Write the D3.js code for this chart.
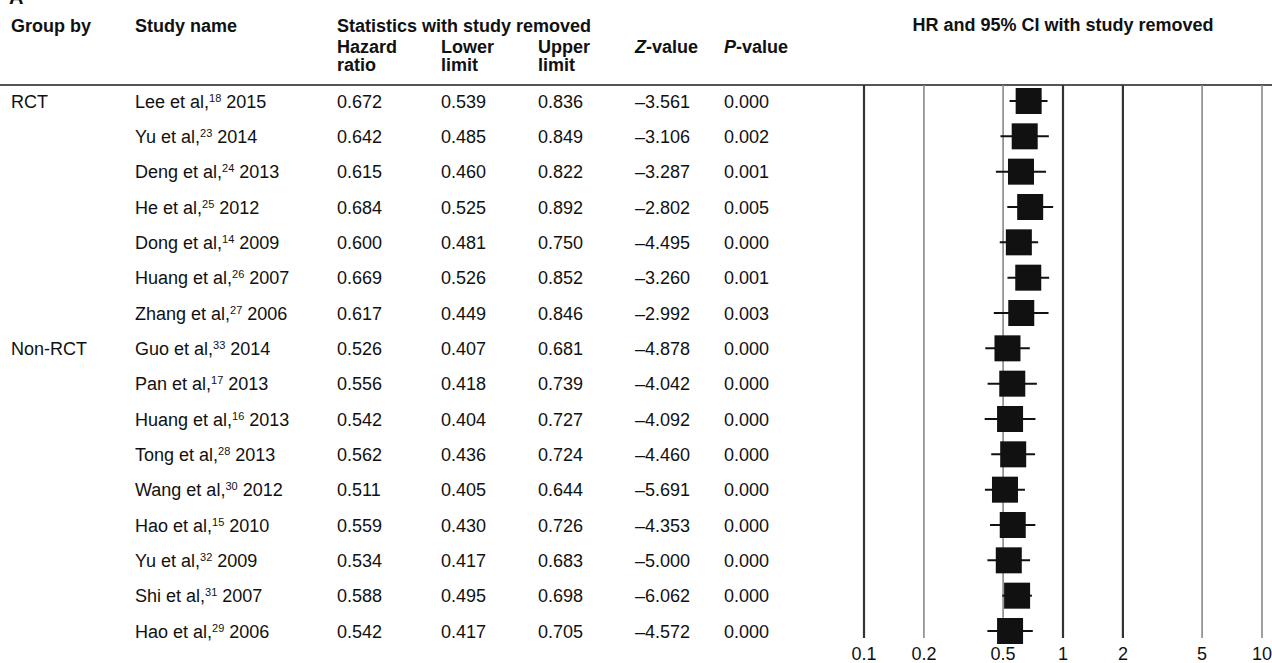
<!DOCTYPE html>
<html><head><meta charset="utf-8">
<script src="https://cdn.jsdelivr.net/npm/d3@7"></script>
<style>
html,body{margin:0;padding:0;background:#fff;}
svg{display:block;font-family:"Liberation Sans",Arial,sans-serif;}
</style></head>
<body>
<svg id="chart" width="1272" height="663"></svg>
<script>
const groups = [{name:"RCT", row:0},{name:"Non-RCT", row:7}];
const authors = ["Lee et al,","Yu et al,","Deng et al,","He et al,","Dong et al,","Huang et al,","Zhang et al,","Guo et al,","Pan et al,","Huang et al,","Tong et al,","Wang et al,","Hao et al,","Yu et al,","Shi et al,","Hao et al,"];
const refs = ["18","23","24","25","14","26","27","33","17","16","28","30","15","32","31","29"];
const years = ["2015","2014","2013","2012","2009","2007","2006","2014","2013","2013","2013","2012","2010","2009","2007","2006"];
const hr = [0.672,0.642,0.615,0.684,0.600,0.669,0.617,0.526,0.556,0.542,0.562,0.511,0.559,0.534,0.588,0.542];
const lower = [0.539,0.485,0.460,0.525,0.481,0.526,0.449,0.407,0.418,0.404,0.436,0.405,0.430,0.417,0.495,0.417];
const upper = [0.836,0.849,0.822,0.892,0.750,0.852,0.846,0.681,0.739,0.727,0.724,0.644,0.726,0.683,0.698,0.705];
const zval = ["–3.561","–3.106","–3.287","–2.802","–4.495","–3.260","–2.992","–4.878","–4.042","–4.092","–4.460","–5.691","–4.353","–5.000","–6.062","–4.572"];
const pval = ["0.000","0.002","0.001","0.005","0.000","0.001","0.003","0.000","0.000","0.000","0.000","0.000","0.000","0.000","0.000","0.000"];
const tickVals = [0.1,0.2,0.5,1,2,5,10];
const tickLabels = ["0.1","0.2","0.5","1","2","5","10"];
const darkTicks = [0.1,1,2];

const svg = d3.select("#chart");
const FS = 18;
const x = d3.scaleLog().domain([0.1,10]).range([864,1262]);
const y = d3.scaleLinear().domain([0,15]).range([101,631]);
const col = {group:11, study:135, hr:337, lo:441, up:538, z:635, p:724};

// panel letter (cut off at top, as in the source figure)
svg.append("text").attr("x",9).attr("y",4).attr("font-size",20).attr("font-weight","bold").attr("fill","#111").text("A");

// headers
const hdr = svg.append("g").attr("font-weight","bold").attr("font-size",FS).attr("fill","#111");
hdr.append("text").attr("x",col.group).attr("y",32).text("Group by");
hdr.append("text").attr("x",col.study).attr("y",32).text("Study name");
hdr.append("text").attr("x",col.hr).attr("y",32).text("Statistics with study removed");
[["Hazard","ratio",col.hr],["Lower","limit",col.lo],["Upper","limit",col.up]].forEach(d=>{
  hdr.append("text").attr("x",d[2]).attr("y",53).text(d[0]);
  hdr.append("text").attr("x",d[2]).attr("y",71).text(d[1]);
});
const zt = hdr.append("text").attr("x",col.z).attr("y",53);
zt.append("tspan").attr("font-style","italic").text("Z");
zt.append("tspan").text("-value");
const pt = hdr.append("text").attr("x",col.p).attr("y",53);
pt.append("tspan").attr("font-style","italic").text("P");
pt.append("tspan").text("-value");
hdr.append("text").attr("x",x(1)).attr("y",31).attr("text-anchor","middle").text("HR and 95% CI with study removed");

// separator line
svg.append("line").attr("x1",0).attr("x2",1272).attr("y1",85).attr("y2",85).attr("stroke","#555").attr("stroke-width",2);

// reference lines
svg.append("g").selectAll("line").data(tickVals).join("line")
  .attr("x1",d=>x(d)).attr("x2",d=>x(d)).attr("y1",85).attr("y2",638)
  .attr("stroke",d=>darkTicks.includes(d)?"#333":"#888")
  .attr("stroke-width",d=>darkTicks.includes(d)?2.2:1.6);

// tick labels
svg.append("g").attr("font-size",FS).attr("fill","#111").selectAll("text").data(tickVals).join("text")
  .attr("x",d=>x(d)).attr("y",660).attr("text-anchor","middle").text((d,i)=>tickLabels[i]);

// table rows
const idx = d3.range(hr.length);
const rows = svg.append("g").attr("font-size",FS).attr("fill","#111");
groups.forEach(g=>rows.append("text").attr("x",col.group).attr("y",y(g.row)+6.5).text(g.name));
idx.forEach(i=>{
  const yy = y(i)+6.5;
  const t = rows.append("text").attr("x",col.study).attr("y",yy);
  t.append("tspan").text(authors[i]);
  t.append("tspan").attr("font-size",11).attr("dy",-6).text(refs[i]);
  t.append("tspan").attr("dy",6).text(" "+years[i]);
  rows.append("text").attr("x",col.hr).attr("y",yy).text(hr[i].toFixed(3));
  rows.append("text").attr("x",col.lo).attr("y",yy).text(lower[i].toFixed(3));
  rows.append("text").attr("x",col.up).attr("y",yy).text(upper[i].toFixed(3));
  rows.append("text").attr("x",col.z).attr("y",yy).text(zval[i]);
  rows.append("text").attr("x",col.p).attr("y",yy).text(pval[i]);
});

// CI lines and squares
const SZ = 26;
const marks = svg.append("g");
marks.selectAll("line").data(idx).join("line")
  .attr("x1",i=>x(lower[i])).attr("x2",i=>x(upper[i]))
  .attr("y1",i=>y(i)).attr("y2",i=>y(i))
  .attr("stroke","#111").attr("stroke-width",2);
marks.selectAll("rect").data(idx).join("rect")
  .attr("x",i=>x(hr[i])-SZ/2).attr("y",i=>y(i)-SZ/2)
  .attr("width",SZ).attr("height",SZ).attr("fill","#111");
</script>
</body></html>
